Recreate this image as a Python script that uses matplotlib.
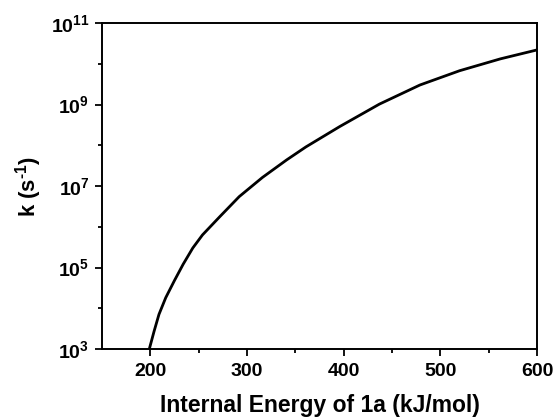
import numpy as np
import matplotlib
matplotlib.use("Agg")
from matplotlib import pyplot as plt
from matplotlib.ticker import FixedLocator

# dados (energia interna vs log10 k)
energia = [199, 204, 209, 216, 225, 234, 244, 254, 272, 292, 316, 341, 361,
           396, 437, 479, 520, 562, 600]
log_k = [3.0, 3.44, 3.85, 4.26, 4.68, 5.08, 5.48, 5.80, 6.25, 6.74, 7.21, 7.64,
         7.96, 8.46, 9.01, 9.48, 9.83, 10.12, 10.34]

x_ticks = [200, 300, 400, 500, 600]
y_ticks = [1e3, 1e5, 1e7, 1e9, 1e11]
y_labels = ['10$^{3}$', '10$^{5}$', '10$^{7}$', '10$^{9}$', '10$^{11}$']

plt.rcParams['font.family'] = 'Liberation Sans'
plt.rcParams['font.weight'] = 'bold'
plt.rcParams['mathtext.fontset'] = 'custom'
plt.rcParams['mathtext.rm'] = 'Liberation Sans:bold'
plt.rcParams['mathtext.bf'] = 'Liberation Sans:bold'
plt.rcParams['mathtext.default'] = 'rm'

fig = plt.figure(figsize=(5.57, 4.19), dpi=100)
ax = fig.add_axes([0.183, 0.167, 0.781, 0.778])

k = [10 ** v for v in log_k]
ax.plot(energia, k, color='black', lw=2.0, solid_joinstyle='round')

ax.set_yscale('log')
ax.set_xlim(150, 600)
ax.set_ylim(1e3, 1e11)

ax.set_xticks(x_ticks)
ax.xaxis.set_minor_locator(FixedLocator([250, 350, 450, 550]))
ax.set_yticks(y_ticks)
ax.set_yticklabels(y_labels)
ax.yaxis.set_minor_locator(FixedLocator([1e4, 1e6, 1e8, 1e10]))
ax.yaxis.set_minor_formatter(plt.NullFormatter())

ax.tick_params(which='major', direction='out', length=5, width=1.3, labelsize=14)
ax.tick_params(axis='x', which='major', pad=5)
ax.tick_params(axis='y', which='major', pad=4)
ax.tick_params(which='minor', direction='out', length=3, width=1.3)
for s in ax.spines.values():
    s.set_linewidth(1.4)

ax.set_xlabel('Internal Energy of 1a (kJ/mol)', fontsize=16.5, fontweight='bold', labelpad=10)
ax.set_ylabel(r'k (s$^{\text{-1}}$)', fontsize=16, fontweight='bold', labelpad=5)

fig.savefig('out.png', dpi=100)
